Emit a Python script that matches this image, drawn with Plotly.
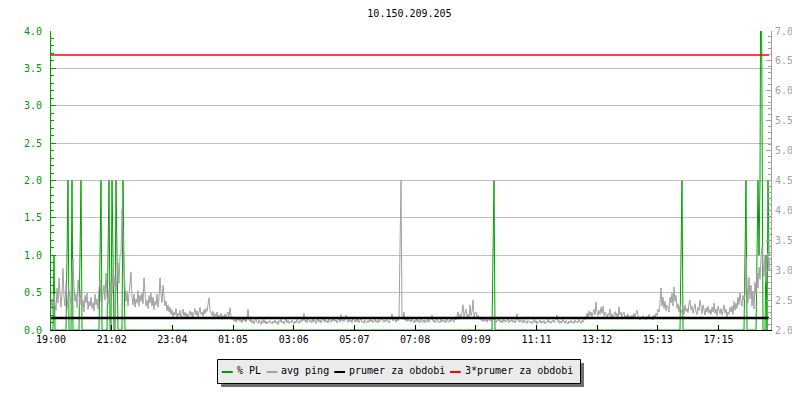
import plotly.graph_objects as go

# ---------------- data ----------------
title_text = "10.150.209.205"

tick_minutes = [0, 121.4, 242.7, 364.1, 485.5, 606.8, 728.2, 849.5, 970.9, 1092.3, 1213.6, 1335.0]
tick_labels = ["19:00", "21:02", "23:04", "01:05", "03:06", "05:07", "07:08",
               "09:09", "11:11", "13:12", "15:13", "17:15"]

# avg ping (ms), one sample every 2 minutes starting 19:00
sample_step_min = 2
avg_ping = [
    2.35, 2.52, 2.28, 2.60, 2.41, 2.33, 2.70, 2.45, 2.87, 2.50, 2.38, 2.62, 3.03, 2.55, 2.40, 2.78, 2.46, 2.35, 2.66, 2.52,
    2.44, 2.90, 3.19, 2.72, 2.48, 2.60, 2.37, 2.84, 2.55, 2.42, 2.68, 2.38, 2.50, 2.30, 2.58, 2.45, 2.62, 2.34, 2.48, 2.40,
    2.55, 2.36, 2.46, 2.32, 2.60, 2.42, 2.52, 2.35, 2.70, 2.84, 2.48, 2.40, 2.62, 2.75, 2.50, 2.95, 2.58, 2.44, 2.66, 2.52,
    2.80, 2.60, 3.05, 2.72, 2.90, 2.65, 2.85, 3.12, 2.78, 3.25, 3.30, 4.02, 3.55, 3.05, 2.72, 2.48, 2.65, 2.40, 2.56, 2.70,
    2.97, 2.55, 2.42, 2.60, 2.38, 2.52, 2.45, 2.66, 2.40, 2.58, 2.48, 2.62, 2.44, 2.87, 2.56, 2.40, 2.50, 2.36, 2.58, 2.45,
    2.62, 2.40, 2.55, 2.34, 2.48, 2.42, 2.60, 2.38, 2.52, 2.87, 2.60, 2.46, 2.75, 2.55, 2.40, 2.48, 2.32, 2.42, 2.30, 2.38,
    2.26, 2.34, 2.22, 2.30, 2.25, 2.36, 2.21, 2.28, 2.24, 2.33, 2.20, 2.27, 2.35, 2.23, 2.30, 2.22, 2.28, 2.19, 2.26, 2.32,
    2.24, 2.30, 2.21, 2.27, 2.36, 2.25, 2.32, 2.22, 2.29, 2.38, 2.26, 2.30, 2.23, 2.34, 2.27, 2.36, 2.31, 2.45, 2.54, 2.33,
    2.28, 2.24, 2.31, 2.20, 2.27, 2.23, 2.30, 2.19, 2.25, 2.22, 2.28, 2.18, 2.24, 2.21, 2.27, 2.20, 2.26, 2.30, 2.22, 2.37,
    2.24, 2.18, 2.22, 2.15, 2.20, 2.13, 2.19, 2.16, 2.22, 2.14, 2.18, 2.12, 2.21, 2.15, 2.19, 2.13, 2.20, 2.35, 2.17, 2.14,
    2.18, 2.12, 2.16, 2.10, 2.15, 2.19, 2.13, 2.11, 2.17, 2.14, 2.09, 2.16, 2.12, 2.18, 2.11, 2.15, 2.10, 2.14, 2.12, 2.16,
    2.13, 2.10, 2.15, 2.12, 2.17, 2.11, 2.14, 2.09, 2.16, 2.13, 2.18, 2.12, 2.15, 2.10, 2.14, 2.19, 2.12, 2.16, 2.11, 2.14,
    2.12, 2.17, 2.13, 2.10, 2.15, 2.12, 2.18, 2.14, 2.11, 2.16, 2.13, 2.20, 2.15, 2.28, 2.14, 2.17, 2.12, 2.22, 2.15, 2.13,
    2.16, 2.12, 2.19, 2.14, 2.17, 2.11, 2.15, 2.20, 2.13, 2.17, 2.12, 2.16, 2.21, 2.14, 2.18, 2.13, 2.16, 2.12, 2.19, 2.15,
    2.13, 2.18, 2.15, 2.22, 2.14, 2.17, 2.12, 2.16, 2.20, 2.13, 2.26, 2.15, 2.18, 2.14, 2.21, 2.25, 2.16, 2.13, 2.18, 2.14,
    2.17, 2.12, 2.22, 2.15, 2.13, 2.18, 2.14, 2.20, 2.12, 2.16, 2.19, 2.13, 2.15, 2.11, 2.17, 2.14, 2.12, 2.16, 2.13, 2.18,
    2.14, 2.17, 2.12, 2.15, 2.19, 2.13, 2.16, 2.12, 2.18, 2.14, 2.16, 2.20, 2.15, 2.13, 2.17, 2.14, 2.19, 2.15, 2.12, 2.16,
    2.18, 2.27, 2.15, 2.22, 2.17, 2.13, 2.19, 2.15, 2.20, 3.31, 4.50, 2.22, 2.18, 2.30, 2.16, 2.21, 2.14, 2.19, 2.15, 2.17,
    2.13, 2.18, 2.15, 2.12, 2.17, 2.14, 2.20, 2.13, 2.16, 2.12, 2.18, 2.15, 2.13, 2.17, 2.12, 2.16, 2.14, 2.19, 2.13, 2.16,
    2.18, 2.25, 2.14, 2.17, 2.12, 2.16, 2.19, 2.13, 2.15, 2.12, 2.18, 2.14, 2.17, 2.13, 2.16, 2.12, 2.19, 2.15, 2.13, 2.17,
    2.14, 2.19, 2.16, 2.13, 2.22, 2.17, 2.24, 2.30, 2.18, 2.26, 2.20, 2.28, 2.42, 2.22, 2.27, 2.35, 2.21, 2.26, 2.19, 2.42,
    2.24, 2.30, 2.50, 2.22, 2.28, 2.30, 2.20, 2.25, 2.18, 2.22, 2.16, 2.20, 2.14, 2.18, 2.15, 2.19, 2.13, 2.17, 2.21, 2.15,
    2.18, 2.13, 2.16, 2.20, 2.14, 2.12, 2.17, 2.15, 2.19, 2.13, 2.16, 2.12, 2.18, 2.14, 2.17, 2.13, 2.15, 2.19, 2.12, 2.16,
    2.14, 2.18, 2.13, 2.16, 2.12, 2.17, 2.27, 2.15, 2.13, 2.18, 2.14, 2.16, 2.12, 2.17, 2.13, 2.15, 2.11, 2.16, 2.14, 2.12,
    2.15, 2.11, 2.14, 2.18, 2.12, 2.16, 2.10, 2.14, 2.13, 2.17, 2.11, 2.15, 2.12, 2.16, 2.10, 2.14, 2.13, 2.18, 2.12, 2.15,
    2.11, 2.14, 2.17, 2.12, 2.15, 2.20, 2.25, 2.13, 2.16, 2.11, 2.15, 2.12, 2.18, 2.14, 2.11, 2.16, 2.13, 2.10, 2.15, 2.12,
    2.16, 2.12, 2.14, 2.11, 2.17, 2.13, 2.15, 2.12, 2.18, 2.14, 2.11, 2.16, 2.13, 2.17, 2.22, 2.18, 2.28, 2.20, 2.32, 2.24,
    2.30, 2.22, 2.27, 2.35, 2.25, 2.47, 2.30, 2.24, 2.33, 2.26, 2.38, 2.28, 2.40, 2.23, 2.30, 2.25, 2.20, 2.28, 2.24, 2.35,
    2.22, 2.27, 2.20, 2.26, 2.31, 2.23, 2.28, 2.21, 2.39, 2.25, 2.30, 2.22, 2.26, 2.30, 2.19, 2.24, 2.21, 2.27, 2.18, 2.23,
    2.20, 2.25, 2.19, 2.28, 2.22, 2.26, 2.33, 2.24, 2.20, 2.17, 2.22, 2.19, 2.24, 2.18, 2.21, 2.17, 2.23, 2.19, 2.26, 2.20,
    2.18, 2.22, 2.17, 2.25, 2.20, 2.28, 2.24, 2.35, 2.30, 2.45, 2.70, 2.40, 2.55, 2.36, 2.48, 2.32, 2.42, 2.38, 2.30, 2.55,
    2.45, 2.62, 2.40, 2.72, 2.48, 2.58, 2.36, 2.44, 2.30, 2.40, 2.33, 2.28, 2.38, 2.26, 2.42, 2.31, 2.36, 2.29, 2.45, 2.50,
    2.34, 2.40, 2.28, 2.36, 2.44, 2.30, 2.26, 2.38, 2.32, 2.50, 2.35, 2.27, 2.42, 2.31, 2.25, 2.37, 2.30, 2.40, 2.28, 2.34,
    2.26, 2.38, 2.30, 2.45, 2.28, 2.35, 2.24, 2.40, 2.30, 2.27, 2.36, 2.25, 2.33, 2.42, 2.28, 2.35, 2.22, 2.30, 2.26, 2.38,
    2.30, 2.40, 2.26, 2.48, 2.33, 2.45, 2.36, 2.55, 2.42, 2.62, 2.48, 2.40, 2.58, 2.50, 2.60, 3.22, 2.70, 2.45, 2.88, 2.52,
    2.75, 2.40, 2.65, 2.35, 2.80, 2.60, 2.95, 2.70, 3.05, 2.85, 3.20, 3.39, 3.10, 2.90, 3.25, 2.80, 3.15, 3.30, 3.00, 3.20,
]

# packet loss (%) : time (minutes after 19:00) and value
pl_time = [0, 4, 6, 8, 30, 32, 34, 36, 40, 42, 44, 56, 58, 60, 62, 96, 98, 100, 102,
           112, 114, 116, 118, 120, 122, 124, 126, 128, 130, 132, 134, 142, 144, 146, 148,
           882, 884, 886, 888, 1258, 1260, 1262, 1264, 1386, 1388, 1390, 1392,
           1410, 1412, 1414, 1416, 1418, 1420, 1422, 1424, 1428, 1430, 1432, 1434, 1436, 1438]
pl_val = [0, 0, 1, 0, 0, 1, 2, 0, 0, 2, 0, 0, 1, 2, 0, 0, 1, 2, 0,
          0, 1, 2, 0, 0, 2, 1, 0, 0, 2, 1, 0, 0, 2, 0.8, 0,
          0, 1, 2, 0, 0, 1, 2, 0, 0, 1, 2, 0,
          0, 1, 2, 1, 2, 6, 2, 0, 0, 1, 0, 2, 1, 1]

period_span = [0, 1436]
prumer = 2.2          # average over the period (ms)
prumer3 = 6.6         # 3 * average

# ---------------- styling ----------------
GREEN = "#00a000"
GREEN_TXT = "#009900"
GRAY = "#a0a0a0"
GRID = "#c0c0c0"
FONT = "DejaVu Sans Mono"

W, H = 800, 400
PAGE_OFF = 8                    # default page body margin
# plot area as seen on screen, converted to figure pixels
L, R, T, B = 51 - PAGE_OFF, 771 - PAGE_OFF, 31 - PAGE_OFF, 330 - PAGE_OFF


def px(x):
    """screen pixel x -> paper coordinate"""
    return (x - PAGE_OFF - L) / (R - L)


def py(y):
    """screen pixel y -> paper coordinate"""
    return (B - (y - PAGE_OFF)) / (B - T)


gray_time = [i * sample_step_min for i in range(len(avg_ping))]

fig = go.Figure()
fig.add_trace(go.Scatter(x=pl_time, y=pl_val, mode="lines", name="% PL",
                         line=dict(color=GREEN, width=1), yaxis="y"))
fig.add_trace(go.Scatter(x=gray_time, y=avg_ping, mode="lines", name="avg ping",
                         line=dict(color=GRAY, width=1), yaxis="y2"))
fig.add_trace(go.Scatter(x=period_span, y=[prumer, prumer], mode="lines",
                         name="prumer za obdobi", line=dict(color="black", width=2.5), yaxis="y2"))
fig.add_trace(go.Scatter(x=period_span, y=[prumer3, prumer3], mode="lines",
                         name="3*prumer za obdobi", line=dict(color="red", width=1.5), yaxis="y2"))

# legend (drawn manually to mimic the original compact box)
shapes = [
    dict(type="rect", xref="paper", yref="paper", x0=px(221), x1=px(584), y0=py(387), y1=py(363),
         fillcolor="#707070", line=dict(width=0), layer="above"),
    dict(type="rect", xref="paper", yref="paper", x0=px(217.5), x1=px(580.5), y0=py(383.5), y1=py(359.5),
         fillcolor="#ebebeb", line=dict(color="black", width=1), layer="above"),
]
legend_items = [
    (GREEN, 221.7, 232.7, "% PL", 236.0),
    (GRAY, 266.7, 277.3, "avg ping", 280.0),
    ("black", 334.3, 345.0, "prumer za obdobi", 347.6),
    ("red", 450.0, 460.7, "3*prumer za obdobi", 463.6),
]
annotations = []
for color, sx0, sx1, label, tx in legend_items:
    shapes.append(dict(type="line", xref="paper", yref="paper", x0=px(sx0), x1=px(sx1),
                       y0=py(372), y1=py(372), line=dict(color=color, width=2), layer="above"))
    annotations.append(dict(text=label, xref="paper", yref="paper", x=px(tx), y=py(370),
                            xanchor="left", yanchor="middle", showarrow=False,
                            font=dict(family=FONT, size=10, color="black"), borderpad=0))

fig.update_layout(
    width=W, height=H,
    margin=dict(l=L, r=W - R, t=T, b=H - B, autoexpand=False),
    paper_bgcolor="white", plot_bgcolor="white",
    showlegend=False,
    font=dict(family=FONT, size=10, color="black"),
    title=dict(text=title_text, x=(409.5 - PAGE_OFF) / W, y=1 - (13 - PAGE_OFF) / H,
               xref="container", yref="container", xanchor="center", yanchor="middle",
               font=dict(family=FONT, size=10, color="black")),
    xaxis=dict(range=[0, 1440], tickvals=tick_minutes, ticktext=tick_labels,
               showgrid=False, zeroline=False, ticks="inside", ticklen=5, tickcolor="black",
               showline=True, linecolor="black", linewidth=1,
               tickfont=dict(family=FONT, size=10, color="black")),
    yaxis=dict(range=[0, 4], tick0=0, dtick=0.5, tickformat=".1f",
               showgrid=True, gridcolor=GRID, gridwidth=1, zeroline=False,
               ticks="inside", ticklen=5, tickcolor=GREEN, showline=True, linecolor=GREEN, linewidth=1,
               minor=dict(dtick=0.1, ticks="inside", ticklen=3, tickcolor=GREEN, showgrid=False),
               ticklabelstandoff=6,
               tickfont=dict(family=FONT, size=10, color=GREEN_TXT)),
    yaxis2=dict(range=[2, 7], tick0=2, dtick=0.5, tickformat=".1f", overlaying="y", side="right",
                showgrid=False, zeroline=False,
                ticks="inside", ticklen=5, tickcolor=GRAY, showline=True, linecolor=GRAY, linewidth=1,
                minor=dict(dtick=0.1, ticks="inside", ticklen=3, tickcolor=GRAY, showgrid=False),
                ticklabelstandoff=1,
                tickfont=dict(family=FONT, size=10, color=GRAY)),
    shapes=shapes,
    annotations=annotations,
)

fig.write_html("out.html")
